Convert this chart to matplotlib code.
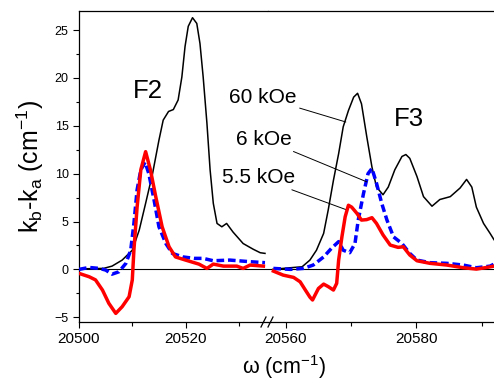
import numpy as np
import matplotlib.pyplot as plt
from matplotlib.ticker import MultipleLocator

plt.rcParams['font.family'] = ['Liberation Sans', 'DejaVu Sans']
plt.rcParams['mathtext.fontset'] = 'custom'
plt.rcParams['mathtext.rm'] = 'Liberation Sans'
plt.rcParams['mathtext.it'] = 'Liberation Sans:italic'

# 60 kOe (black)
black_left_x = [20500, 20504.6, 20506.2, 20508.1, 20510.0, 20511.3, 20512.5, 20513.8, 20515.0,
                20515.8, 20516.8, 20517.7, 20518.6, 20519.3, 20519.9, 20520.5, 20521.3, 20522.1,
                20522.7, 20523.3, 20524.0, 20524.6, 20525.2, 20525.9, 20526.8, 20527.7, 20528.9,
                20530.8, 20532.7, 20534.0, 20534.9]
black_left_y = [0.05, 0.1, 0.34, 0.97, 2.0, 4.1, 6.9, 10.0, 13.5,
                15.6, 16.5, 16.7, 17.7, 20.1, 23.3, 25.4, 26.3, 25.7,
                23.6, 20.1, 15.3, 10.4, 6.9, 4.8, 4.45, 4.8, 3.9,
                2.7, 2.1, 1.74, 1.67]
black_right_x = [20558.0, 20560.7, 20562.5, 20563.7, 20564.7, 20565.8, 20566.5, 20567.3, 20568.1,
                 20568.8, 20569.6, 20570.4, 20571.0, 20571.6, 20572.4, 20573.2, 20573.9, 20574.9,
                 20575.7, 20576.7, 20577.8, 20578.4, 20579.0, 20580.1, 20581.1, 20582.4, 20583.6,
                 20585.2, 20586.7, 20587.7, 20588.5, 20589.2, 20590.3, 20591.3, 20591.9]
black_right_y = [0.0, 0.17, 0.27, 0.97, 2.0, 3.76, 6.2, 9.3, 12.1,
                 14.9, 16.6, 18.0, 18.4, 17.3, 13.9, 10.7, 8.6, 7.8,
                 8.6, 10.4, 11.8, 12.0, 11.6, 9.7, 7.6, 6.6, 7.3,
                 7.6, 8.5, 9.4, 8.6, 6.5, 4.8, 3.76, 3.1]

# 6 kOe (blue dashed)
blue_left_x = [20500, 20501.9, 20503.8, 20505.0, 20506.2, 20507.5, 20508.8, 20509.7, 20510.3,
               20510.9, 20511.6, 20512.4, 20513.1, 20514.1, 20515.0, 20516.3, 20517.5, 20519.5,
               20521.6, 20523.3, 20525.2, 20528.3, 20532.1, 20534.9]
blue_left_y = [0.0, 0.2, 0.1, -0.07, -0.5, -0.25, 0.63, 2.0, 4.8,
               8.3, 10.4, 11.2, 10.0, 7.2, 4.45, 2.7, 1.67, 1.3,
               1.15, 1.15, 0.9, 0.97, 0.8, 0.7]
blue_right_x = [20558.1, 20560.7, 20562.7, 20564.2, 20565.8, 20567.0, 20568.1, 20568.8, 20569.8,
                20570.6, 20571.1, 20571.9, 20572.6, 20573.2, 20573.9, 20574.7, 20575.5, 20576.5,
                20577.8, 20579.0, 20580.1, 20582.1, 20584.7, 20587.2, 20589.2, 20591.3, 20591.9]
blue_right_y = [0.1, 0.0, 0.1, 0.45, 1.3, 2.2, 2.9, 2.0, 1.74,
                2.7, 5.15, 7.9, 10.0, 10.55, 9.0, 6.9, 5.15, 3.4,
                2.7, 1.67, 0.97, 0.7, 0.63, 0.45, 0.17, 0.34, 0.55]

# 5.5 kOe (red)
red_left_x = [20500, 20501.9, 20503.1, 20504.4, 20505.6, 20506.9, 20508.1, 20509.4, 20510.0,
              20510.3, 20510.9, 20511.6, 20512.5, 20513.4, 20514.4, 20515.6, 20516.9, 20518.1,
              20520.0, 20521.6, 20522.5, 20524.0, 20525.2, 20527.1, 20529.6, 20530.8, 20532.1,
              20534.6]
red_left_y = [-0.42, -0.77, -1.1, -2.16, -3.55, -4.6, -3.9, -2.86, -1.1,
              2.0, 6.5, 10.4, 12.3, 10.4, 7.6, 4.45, 2.36, 1.3,
              0.97, 0.7, 0.55, 0.1, 0.55, 0.34, 0.34, 0.1, 0.45,
              0.34]
red_right_x = [20558.1, 20559.6, 20561.2, 20562.2, 20563.0, 20563.7, 20564.1, 20565.0, 20565.8,
               20566.5, 20567.3, 20567.8, 20568.1, 20568.6, 20569.1, 20569.6, 20570.1, 20570.9,
               20571.6, 20572.4, 20573.2, 20573.9, 20574.9, 20576.0, 20577.2, 20578.0, 20579.0,
               20580.1, 20582.1, 20584.7, 20587.2, 20589.2, 20590.8, 20591.9]
red_right_y = [-0.18, -0.6, -0.84, -1.3, -2.16, -2.9, -3.2, -2.0, -1.54,
               -1.8, -2.16, -1.46, 0.97, 3.4, 5.5, 6.7, 6.5, 5.85,
               5.15, 5.2, 5.4, 4.8, 3.6, 2.54, 2.3, 2.36, 1.5,
               0.9, 0.63, 0.45, 0.17, 0.03, 0.2, 0.34]

fig = plt.figure(figsize=(4.94, 3.80), dpi=100)
W, H = 494.0, 380.0
bottom = 1 - 322 / H
height = (322 - 11) / H
ax1 = fig.add_axes([79 / W, bottom, (267.5 - 79) / W, height])
ax2 = fig.add_axes([267.5 / W, bottom, (494 - 267.5) / W, height], sharey=ax1)

dash = (0, (2.2, 1.1))
for ax, bx, by, ux, uy, rx, ry in [
        (ax1, black_left_x, black_left_y, blue_left_x, blue_left_y, red_left_x, red_left_y),
        (ax2, black_right_x, black_right_y, blue_right_x, blue_right_y, red_right_x, red_right_y)]:
    ax.axhline(0, color='black', lw=0.8, zorder=1)
    ax.plot(bx, by, color='black', lw=1.1, zorder=2, solid_joinstyle='round')
    ax.plot(ux, uy, color='#0000ff', lw=2.5, ls=dash, zorder=3, dash_joinstyle='round')
    ax.plot(rx, ry, color='#ff0000', lw=2.5, zorder=4, solid_joinstyle='round')
    ax.tick_params(direction='out', which='both')
    ax.tick_params(axis='x', labelsize=11, length=4, width=0.8)
    ax.tick_params(axis='x', which='minor', length=3, width=0.8)

ax1.set_xlim(20500, 20535.37)
ax2.set_xlim(20557.2, 20591.9)
ax1.set_ylim(-5.5, 27)

ax1.set_xticks([20500, 20520])
ax1.xaxis.set_minor_locator(MultipleLocator(10))
ax2.set_xticks([20560, 20580])
ax2.xaxis.set_minor_locator(MultipleLocator(10))
ax1.set_yticks([-5, 0, 5, 10, 15, 20, 25])
ax1.yaxis.set_minor_locator(MultipleLocator(2.5))
ax1.tick_params(axis='y', labelsize=9, length=4, width=0.8)
ax1.tick_params(axis='y', which='minor', length=2.5, width=0.8)

ax1.spines['right'].set_visible(False)
ax2.spines['left'].set_visible(False)
ax2.spines['right'].set_visible(False)
ax2.tick_params(axis='y', which='both', left=False, labelleft=False)
for ax in (ax1, ax2):
    for s in ax.spines.values():
        s.set_linewidth(0.9)

# break marks
bx0 = 267.5 / W
by0 = 1 - 322 / H
for off in (-4.0, 3.0):
    x0 = bx0 + (off - 2.5) / W
    x1 = bx0 + (off + 2.5) / W
    fig.add_artist(plt.Line2D([x0, x1], [by0 - 5 / H, by0 + 5 / H], color='black', lw=0.9))

ax1.set_ylabel(r'k$_\mathrm{b}$-k$_\mathrm{a}$ (cm$^\mathrm{-1}$)', fontsize=18, labelpad=6)
fig.text(284 / W, 1 - 367 / H, r'ω (cm$^\mathrm{-1}$)', fontsize=15.5, ha='center', va='center')

ax1.text(20512.9, 18.6, 'F2', fontsize=18.5, ha='center', va='center')
ax2.text(20578.9, 15.7, 'F3', fontsize=18.5, ha='center', va='center')

ax2.annotate('60 kOe', xy=(20569.2, 15.4), xytext=(20561.7, 18.0), fontsize=15,
             ha='right', va='center', annotation_clip=False,
             arrowprops=dict(arrowstyle='-', lw=0.7, color='black', shrinkA=0, shrinkB=0))
ax2.annotate('6 kOe', xy=(20572.4, 9.15), xytext=(20560.9, 13.6), fontsize=15,
             ha='right', va='center', annotation_clip=False,
             arrowprops=dict(arrowstyle='-', lw=0.7, color='black', shrinkA=0, shrinkB=0))
ax2.annotate('5.5 kOe', xy=(20569.4, 6.2), xytext=(20561.4, 9.6), fontsize=15,
             ha='right', va='center', annotation_clip=False,
             arrowprops=dict(arrowstyle='-', lw=0.7, color='black', shrinkA=0, shrinkB=0))

fig.savefig('out.png', dpi=100)
